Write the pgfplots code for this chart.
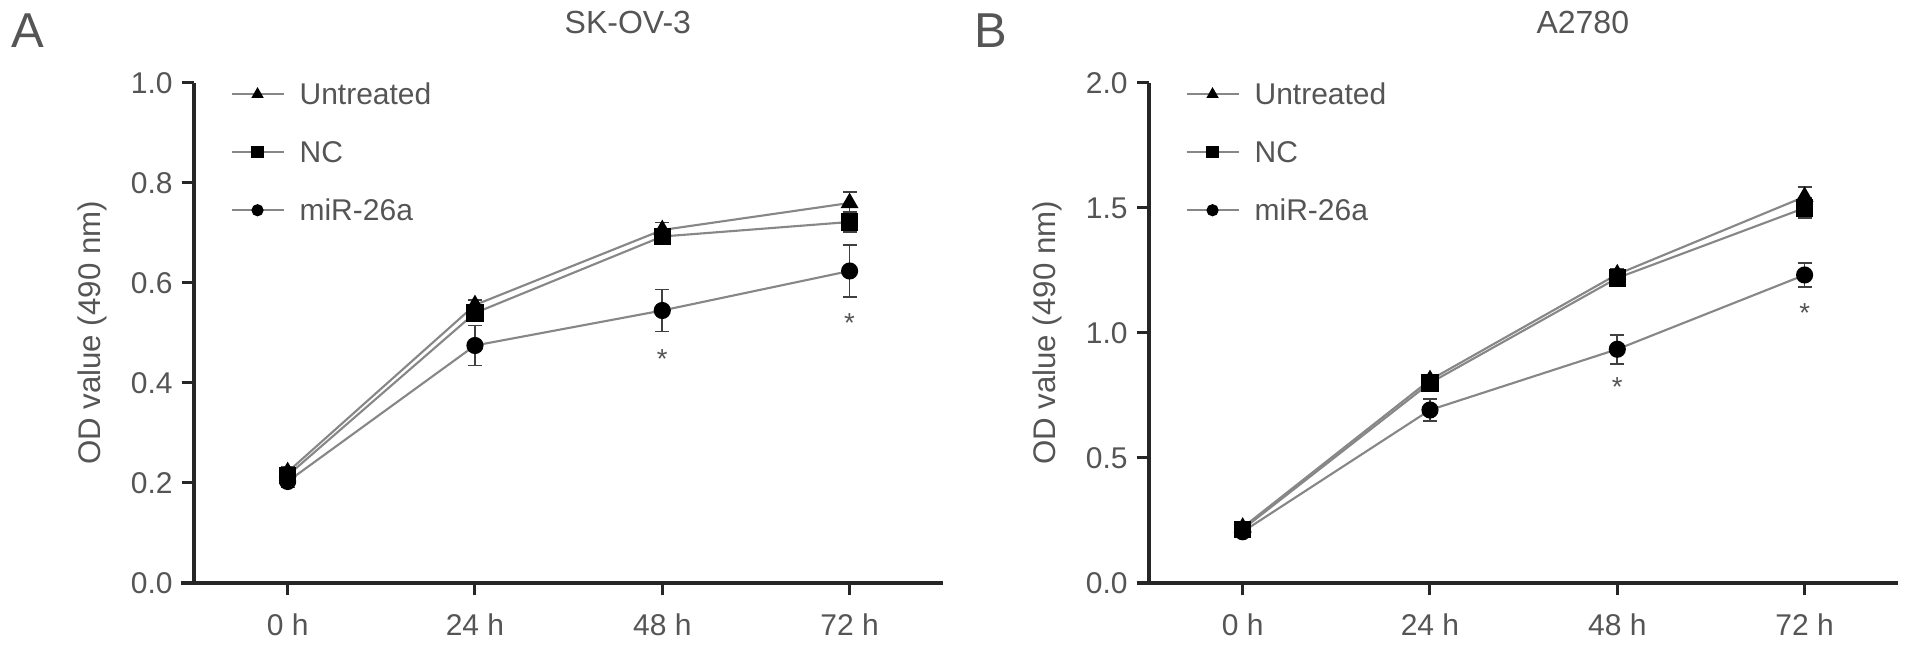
\documentclass[border=0pt]{standalone}
\usepackage{pgfplots}
\pgfplotsset{compat=1.18}
\usepackage{fontspec}
\setmainfont{Liberation Sans}
\definecolor{txt}{RGB}{85,85,85}
\definecolor{ln}{RGB}{135,135,135}
\pgfplotsset{
  panel/.style={
    scale only axis, width=299.7pt, height=200pt,
    anchor=south west,
    axis x line*=bottom, axis y line*=left,
    axis line style={black!85, line width=1.3pt, -},
    x axis line style={shorten <=-5pt},
    tick align=outside, major tick length=5pt,
    tick style={black!85, line width=1.2pt},
    xmin=-0.5, xmax=3.5, ymin=0,
    xtick={0,1,2,3}, xticklabels={0 h,24 h,48 h,72 h},
    ticklabel style={font=\fontsize{12}{14}\selectfont, text=txt},
    xticklabel style={anchor=center, yshift=-11.8pt},
    yticklabel style={anchor=east, xshift=0pt},
    /pgf/number format/assume math mode=true,
    /pgf/number format/fixed, /pgf/number format/fixed zerofill, /pgf/number format/precision=1,
    ylabel={OD value (490 nm)},
    ylabel style={at={(axis description cs:-0.136,0.5)}, anchor=center, font=\fontsize{12.5}{14}\selectfont, text=txt},
    title style={at={(axis description cs:0.579,1)}, anchor=center, yshift=18.4pt, font=\fontsize{12.8}{14}\selectfont, text=txt},
    legend style={draw=none, fill=none, anchor=north west, font=\fontsize{12}{14}\selectfont, text=txt,
      row sep=14.6pt, column sep=6pt, inner sep=0pt,
      nodes={inner sep=0pt, text height=8.6pt, text depth=0pt}},
    legend cell align=left,
    legend image code/.code={\draw[mark repeat=2,mark phase=2,#1,mark size=2pt] plot coordinates {(0pt,0pt) (10.4pt,0pt) (20.8pt,0pt)};},
    clip=false,
  },
  ser/.style={color=ln, line width=0.85pt, mark options={fill=black, draw=black, solid},
    error bars/y dir=both, error bars/y explicit,
    error bars/error bar style={line width=0.7pt, black!75},
    error bars/error mark options={rotate=90, mark size=2.8pt, line width=0.7pt, black!75}},
  star/.style={only marks, mark=none, nodes near coords={*}, every node near coord/.style={anchor=center, yshift=-2.7pt, text=txt, font=\fontsize{11}{12}\selectfont}},
}
\begin{document}
\begin{tikzpicture}
\node[text=txt, font=\fontsize{19.6}{22}\selectfont] at (11.2pt,246.6pt) {A};
\node[text=txt, font=\fontsize{19.6}{22}\selectfont] at (396.4pt,246.6pt) {B};
\begin{axis}[panel, at={(77.6pt,25.6pt)}, ymax=1.0, ytick={0,0.2,...,1.0},
  title={SK-OV-3}, legend style={at={(axis description cs:0.048,1.0)}}]
\addplot[ser, mark=triangle*, mark size=3.3pt] coordinates {
 (0,0.222) +- (0,0.010) (1,0.556) +- (0,0.010) (2,0.706) +- (0,0.015) (3,0.760) +- (0,0.022)};
\addlegendentry{Untreated}
\addplot[ser, mark=square*, mark size=3pt] coordinates {
 (0,0.215) +- (0,0.010) (1,0.540) +- (0,0.012) (2,0.693) +- (0,0.010) (3,0.722) +- (0,0.020)};
\addlegendentry{NC}
\addplot[ser, mark=*, mark size=3pt] coordinates {
 (0,0.203) +- (0,0.012) (1,0.475) +- (0,0.040) (2,0.545) +- (0,0.042) (3,0.624) +- (0,0.052)};
\addlegendentry{miR-26a}
\addplot[star, forget plot] coordinates {(2,0.462) (3,0.534)};
\end{axis}
\begin{axis}[panel, at={(459.6pt,25.6pt)}, ymax=2.0, ytick={0,0.5,...,2.0},
  title={A2780}, legend style={at={(axis description cs:0.048,1.0)}}]
\addplot[ser, mark=triangle*, mark size=3.3pt] coordinates {
 (0,0.222) +- (0,0.020) (1,0.812) +- (0,0.020) (2,1.235) +- (0,0.020) (3,1.545) +- (0,0.040)};
\addlegendentry{Untreated}
\addplot[ser, mark=square*, mark size=3pt] coordinates {
 (0,0.215) +- (0,0.020) (1,0.800) +- (0,0.030) (2,1.220) +- (0,0.020) (3,1.500) +- (0,0.040)};
\addlegendentry{NC}
\addplot[ser, mark=*, mark size=3pt] coordinates {
 (0,0.205) +- (0,0.020) (1,0.692) +- (0,0.044) (2,0.935) +- (0,0.058) (3,1.232) +- (0,0.048)};
\addlegendentry{miR-26a}
\addplot[star, forget plot] coordinates {(2,0.810) (3,1.108)};
\end{axis}
\pgfresetboundingbox
\path[use as bounding box] (0,0) rectangle (765.2pt,258.8pt);
\end{tikzpicture}
\end{document}
